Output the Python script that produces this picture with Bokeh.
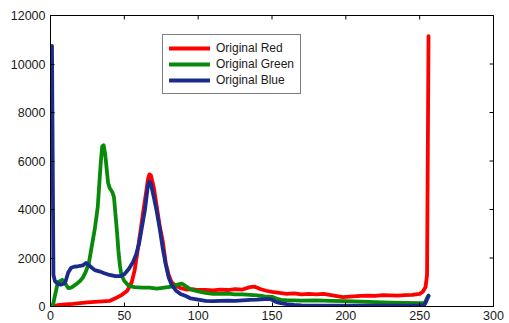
import math
from bokeh.plotting import figure
from bokeh.models import Range1d, LinearAxis, Legend, LegendItem, FixedTicker
from bokeh.embed import file_html
from bokeh.resources import INLINE

# Intensity bins (1-based, 1..256) and counts
red_x = [1, 5, 10, 15, 20, 25, 30, 35, 40, 45, 48, 52, 55, 57, 59, 61, 63, 65, 66, 67, 68, 70, 72, 74, 76, 78, 80, 82, 85, 88,
         92, 96, 100, 105, 110, 115, 120, 125, 130, 135, 138, 142, 146, 150, 155, 160, 165, 170, 175, 180, 185, 190, 195, 198,
         205, 210, 215, 220, 225, 230, 235, 240, 245, 250, 252, 253, 254, 255, 256]
red_y = [0, 60, 90, 110, 140, 170, 190, 210, 230, 370, 470, 650, 1000, 1500, 2300, 3130, 4000, 4800, 5250, 5450, 5400, 4900, 4100, 3300, 2700, 1800, 1300, 1000, 850, 760,
         700, 720, 680, 680, 660, 700, 680, 720, 700, 800, 820, 720, 650, 600, 560, 520, 540, 500, 520, 500, 520, 470, 420, 390,
         420, 440, 450, 440, 470, 460, 450, 470, 480, 520, 600, 700, 800, 1300, 11150]

green_x = [1, 2, 3, 5, 8, 10, 12, 14, 16, 18, 20, 22, 24, 26, 28, 30, 32, 33, 34, 35, 36, 37, 38, 39, 40, 42, 43, 44, 45, 46, 47, 48, 50,
           53, 57, 62, 67, 72, 77, 82, 86, 89, 92, 95, 100, 105, 110, 115, 120, 125, 130, 135, 140, 145, 150, 153, 156, 160, 170,
           180, 190, 200, 210, 220, 230, 240, 250, 253, 254, 255, 256]
green_y = [0, 150, 450, 1000, 1100, 950, 760, 780, 860, 950, 1050, 1200, 1450, 1800, 2500, 3200, 4100, 5000, 5900, 6600, 6650, 6300, 5700, 5100, 4900, 4700, 4500, 3800, 3100, 2300, 1700, 1300, 1050,
           850, 800, 780, 780, 740, 780, 820, 900, 940, 820, 700, 620, 560, 520, 520, 530, 500, 500, 480, 460, 420, 400, 330, 275, 260, 240,
           250, 230, 220, 200, 180, 160, 150, 140, 140, 200, 350, 450]

blue_x = [1, 2, 3, 5, 7, 9, 10, 12, 14, 16, 18, 20, 22, 24, 26, 28, 30, 33, 36, 40, 44, 47, 50, 53, 56, 58, 60, 62, 64, 65, 66, 67, 68,
          70, 72, 74, 76, 78, 80, 82, 85, 88, 92, 95, 100, 105, 110, 115, 120, 125, 130, 135, 140, 145, 148, 150, 153, 156, 160,
          165, 170, 180, 190, 200, 210, 220, 230, 240, 250, 253, 254, 255, 256]
blue_y = [10750, 1300, 1050, 930, 900, 950, 1000, 1400, 1600, 1640, 1650, 1680, 1700, 1800, 1700, 1600, 1500, 1450, 1380, 1300, 1250, 1250, 1330, 1550, 1850, 2150, 2600, 3300, 4000, 4500, 5000, 5150, 5050,
          4500, 3900, 3200, 2400, 1750, 1200, 900, 650, 520, 420, 330, 280, 230, 220, 230, 240, 230, 250, 270, 280, 300, 310, 280, 180, 140, 100,
          70, 50, 40, 40, 40, 40, 40, 40, 40, 50, 60, 150, 300, 430]

series_names = ["Original Red", "Original Green", "Original Blue"]
series_colors = ["#ff0000", "#0a8a0a", "#1a2b8c"]

x_ticks = [0, 50, 100, 150, 200, 250, 300]
y_ticks = [0, 2000, 4000, 6000, 8000, 10000, 12000]
x_min, x_max = 0, 300
y_min, y_max = 0, 12000

FONT = "Liberation Sans"

p = figure(width=509, height=323, output_backend="svg", toolbar_location=None,
           x_range=Range1d(x_min, x_max), y_range=Range1d(y_min, y_max),
           min_border_left=50, min_border_top=15, min_border_right=16, min_border_bottom=17,
           x_axis_location=None, y_axis_location=None)
p.grid.visible = False
p.outline_line_color = "black"
p.outline_line_width = 1
p.background_fill_color = "white"
p.border_fill_color = "white"


def style_axis(ax, standoff):
    ax.axis_line_color = "black"
    ax.axis_line_width = 1
    ax.major_tick_in = 4
    ax.major_tick_out = 0
    ax.major_tick_line_color = "black"
    ax.minor_tick_line_color = None
    ax.major_label_text_font = FONT
    ax.major_label_text_color = "#1a1a1a"
    ax.major_label_standoff = standoff
    ax.major_label_text_font_size = "12.5px"


xb = LinearAxis(ticker=FixedTicker(ticks=x_ticks))
style_axis(xb, 4)
p.add_layout(xb, "below")
yl = LinearAxis(ticker=FixedTicker(ticks=y_ticks))
style_axis(yl, 5)
p.add_layout(yl, "left")

# inward tick marks on the top and right edges (box style), at the tick values
p.scatter(x=x_ticks, y=[y_max] * len(x_ticks), marker="dash", angle=math.pi / 2, size=8,
          line_color="black", line_width=1)
p.scatter(x=[x_max] * len(y_ticks), y=y_ticks, marker="dash", size=8,
          line_color="black", line_width=1)

renderers = []
for xs, ys, c in [(red_x, red_y, series_colors[0]), (green_x, green_y, series_colors[1]), (blue_x, blue_y, series_colors[2])]:
    r = p.line(xs, ys, line_color=c, line_width=3.8, line_join="round", line_cap="round")
    renderers.append(r)

legend = Legend(items=[LegendItem(label=n, renderers=[r]) for n, r in zip(series_names, renderers)],
                location=(112, 212))
legend.border_line_color = "black"
legend.border_line_width = 1
legend.background_fill_color = "white"
legend.background_fill_alpha = 1
legend.label_text_font = FONT
legend.label_text_font_size = "12px"
legend.label_text_color = "#1a1a1a"
legend.glyph_width = 41
legend.glyph_height = 14
legend.label_height = 14
legend.label_standoff = 6
legend.padding = 6
legend.spacing = 2
legend.margin = 0
p.add_layout(legend, "center")

open("out.html", "w").write(file_html(p, INLINE))
